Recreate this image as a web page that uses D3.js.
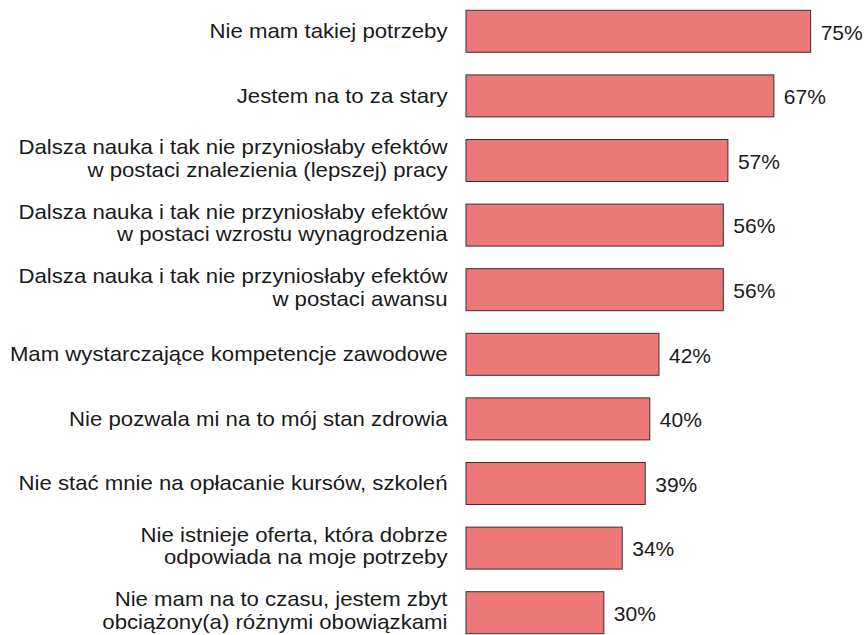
<!DOCTYPE html>
<html>
<head>
<meta charset="utf-8">
<script src="https://cdn.jsdelivr.net/npm/d3@7"></script>
<style>
  html, body { margin: 0; padding: 0; background: #fff; }
  svg { display: block; }
  text { font-family: "Liberation Sans", Arial, sans-serif; }
</style>
</head>
<body>
<svg id="chart" width="866" height="635"></svg>
<script>
// Reasons given for not continuing education (share of respondents, %)
const labels = [
  ["Nie mam takiej potrzeby"],
  ["Jestem na to za stary"],
  ["Dalsza nauka i tak nie przyniosłaby efektów", "w postaci znalezienia (lepszej) pracy"],
  ["Dalsza nauka i tak nie przyniosłaby efektów", "w postaci wzrostu wynagrodzenia"],
  ["Dalsza nauka i tak nie przyniosłaby efektów", "w postaci awansu"],
  ["Mam wystarczające kompetencje zawodowe"],
  ["Nie pozwala mi na to mój stan zdrowia"],
  ["Nie stać mnie na opłacanie kursów, szkoleń"],
  ["Nie istnieje oferta, która dobrze", "odpowiada na moje potrzeby"],
  ["Nie mam na to czasu, jestem zbyt", "obciążony(a) różnymi obowiązkami"]
];
const values = [75, 67, 57, 56, 56, 42, 40, 39, 34, 30];

const svg = d3.select("#chart");
const ids = d3.range(values.length);

const x = d3.scaleLinear().domain([0, 100]).range([466, 925.5]);
const y = d3.scaleBand().domain(ids).range([-1, 645]).paddingInner(0.35).paddingOuter(0.175);

const g = svg.append("g");

// bars
g.selectAll("rect.bar").data(ids).join("rect")
  .attr("class", "bar")
  .attr("x", x(0))
  .attr("y", i => y(i))
  .attr("width", i => x(values[i]) - x(0))
  .attr("height", y.bandwidth())
  .attr("fill", "#ee7878")
  .attr("stroke", "#333")
  .attr("stroke-width", 1);

// value labels
g.selectAll("text.val").data(ids).join("text")
  .attr("class", "val")
  .attr("x", i => x(values[i]) + 10)
  .attr("y", i => y(i) + y.bandwidth() / 2 + 1)
  .attr("dy", "0.35em")
  .attr("font-size", 21)
  .attr("fill", "#1a1a1a")
  .text(i => values[i] + "%");

// category labels (one or two lines, right-aligned, slightly widened)
const lineH = 22.5;
const labelLayer = g.append("g")
  .attr("transform", "translate(447.5,0) scale(1.11,1)");
const cat = labelLayer.selectAll("text.cat").data(ids).join("text")
  .attr("class", "cat")
  .attr("text-anchor", "end")
  .attr("font-size", 20)
  .attr("fill", "#1a1a1a");
cat.each(function(i) {
  const lines = labels[i];
  const shift = lines.length > 1 ? -2 : 0;
  const cy = y(i) + y.bandwidth() / 2 + shift;
  const t = d3.select(this);
  lines.forEach((ln, k) => {
    t.append("tspan")
      .attr("x", 0)
      .attr("y", cy + (k - (lines.length - 1) / 2) * lineH)
      .attr("dy", "0.35em")
      .text(ln);
  });
});
</script>
</body>
</html>
